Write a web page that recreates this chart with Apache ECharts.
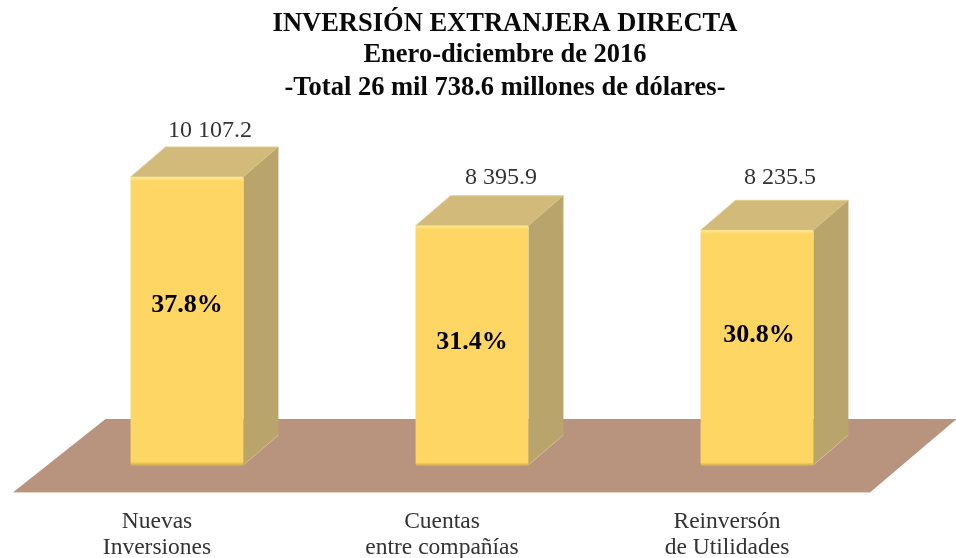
<!DOCTYPE html>
<html><head><meta charset="utf-8">
<style>html,body{margin:0;padding:0;background:#fff}#c{width:956px;height:558px}</style>
<script src="https://cdn.jsdelivr.net/npm/echarts@6/dist/echarts.min.js"></script>
</head><body><div id="c"></div>
<script>
const categories = ['Nuevas\nInversiones', 'Cuentas\nentre compañías', 'Reinversón\nde Utilidades'];
const values = [10107.2, 8395.9, 8235.5];
const valueLabels = ['10 107.2', '8 395.9', '8 235.5'];
const shares = ['37.8%', '31.4%', '30.8%'];
const titleLines = ['INVERSIÓN EXTRANJERA DIRECTA', 'Enero-diciembre de 2016', '-Total 26 mil 738.6 millones de dólares-'];

// Style-only nudges relative to each bar
const valueNudge = [[23, -46], [29, -48], [23, -53]];
const shareNudge = [[0, -16], [0, -3], [2, -12]];
const DX = 35, DY = 30;
const SERIF = '"Liberation Serif","Times New Roman",serif';

function floorItem(params, api) {
  const cs = params.coordSys;
  const y0 = api.coord([0, 0])[1];
  return {
    type: 'group',
    children: [
      { type: 'polygon', shape: { points: [
          [cs.x - 31, y0 + 27], [cs.x + 826, y0 + 27],
          [cs.x + 912, y0 - 46], [cs.x + 61, y0 - 46]] },
        style: { fill: '#B8937D' } },
      { type: 'line', shape: { x1: cs.x - 31, y1: y0 + 27.5, x2: cs.x + 826, y2: y0 + 27.5 },
        style: { stroke: '#EBD2BE', lineWidth: 1 } }
    ]
  };
}

function barItem(params, api) {
  const i = api.value(0);
  const val = api.value(1);
  const top = api.coord([i, val]);
  const base = api.coord([i, 0]);
  const w = api.size([1, 0])[0] * 0.396;
  const l = top[0] - w / 2, r = top[0] + w / 2, t = top[1], b = base[1];
  const vn = valueNudge[i], sn = shareNudge[i];
  return {
    type: 'group',
    children: [
      { type: 'polygon', shape: { points: [[l, t], [r, t], [r + DX, t - DY], [l + DX, t - DY]] },
        style: { fill: '#D2BA7A', stroke: '#E4CF92', lineWidth: 1 } },
      { type: 'polygon', shape: { points: [[r, t], [r + DX, t - DY], [r + DX, b - DY], [r, b]] },
        style: { fill: '#B9A56C' } },
      { type: 'line', shape: { x1: r, y1: b, x2: r + DX, y2: b - DY },
        style: { stroke: '#D3C08C', lineWidth: 1 } },
      { type: 'rect', shape: { x: l, y: t, width: w, height: b - t + 1, r: 2 },
        style: { fill: new echarts.graphic.LinearGradient(0, 0, 0, 1, [
            { offset: 0, color: '#FFE98F' }, { offset: 0.015, color: '#FDD663' },
            { offset: 0.985, color: '#FDD663' }, { offset: 1, color: '#C9A445' }]) } },
      { type: 'text', x: top[0] + vn[0], y: t + vn[1],
        style: { text: valueLabels[i], fill: '#333', font: '24px ' + SERIF, align: 'center', verticalAlign: 'middle' } },
      { type: 'text', x: top[0] + sn[0], y: (t + b) / 2 + sn[1],
        style: { text: shares[i], fill: '#000', font: 'bold 26px ' + SERIF, align: 'center', verticalAlign: 'middle' } }
    ]
  };
}

const chart = echarts.init(document.getElementById('c'), null, { renderer: 'canvas' });
chart.setOption({
  animation: false,
  backgroundColor: '#fff',
  title: titleLines.map((t, i) => ({
    text: t, left: 505, textAlign: 'center', top: [11, 42, 75][i], padding: 0,
    textStyle: { fontFamily: SERIF, fontWeight: 'bold', fontSize: 26.5, color: '#0a0a0a', lineHeight: 26 }
  })),
  grid: { left: 44.5, width: 855, top: 123, height: 342, outerBoundsMode: 'none', containLabel: false },
  xAxis: {
    type: 'category', data: categories,
    axisLine: { show: false }, axisTick: { show: false },
    axisLabel: { margin: 44, fontFamily: SERIF, fontSize: 23.5, lineHeight: 26, color: '#333', padding: [0, 60, 0, 0], interval: 0 }
  },
  yAxis: { type: 'value', min: 0, max: 12000, show: false, splitLine: { show: false } },
  series: [
    { type: 'custom', renderItem: floorItem, data: [[0, 0]], encode: { x: 0, y: 1 }, z: 1, silent: true, clip: false },
    { type: 'custom', renderItem: barItem, data: values.map((v, i) => [i, v]), encode: { x: 0, y: 1 }, z: 2, silent: true, clip: false }
  ]
});
</script></body></html>
